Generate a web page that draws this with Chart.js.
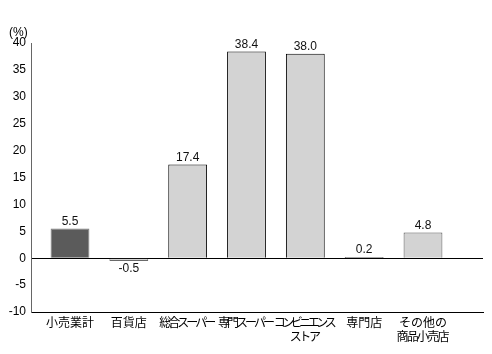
<!DOCTYPE html>
<html><head><meta charset="utf-8">
<script src="https://cdn.jsdelivr.net/npm/chart.js@4/dist/chart.umd.min.js"></script>
<style>html,body{margin:0;padding:0;background:#fff}#w{width:492px;height:354px}</style>
</head><body><div id="w"><canvas id="c"></canvas></div>
<script>
const categories = [["小売業計"], ["百貨店"], ["総合スーパー"], ["専門スーパー"], ["コンビニエンス", "ストア"], ["専門店"], ["その他の", "商品小売店"]];
const values = [5.5, -0.5, 17.4, 38.4, 38.0, 0.2, 4.8];
const valueLabels = ["5.5", "-0.5", "17.4", "38.4", "38.0", "0.2", "4.8"];
const yTicks = [-10, -5, 0, 5, 10, 15, 20, 25, 30, 35, 40];
const unitLabel = "(%)";

// styles
const fillColors = ["#5b5b5b", "#d3d3d3", "#d3d3d3", "#d3d3d3", "#d3d3d3", "#d3d3d3", "#d3d3d3"];
const borderColors = ["#7a7a7a", "#6a6a6a", "#000000", "#000000", "#000000", "#000000", "#555555"];
const lineLetterSpacing = {"総合スーパー": -3, "専門スーパー": -3, "コンビニエンス": -3.5, "ストア": -2.3, "商品小売店": -1.8};

const labelPlugin = {
  id: 'vals',
  beforeDraw(chart) {
    const s = chart.scales.x;
    if (s && !s._lsPatched) {
      s._lsPatched = true;
      s.drawLabels = function (chartArea) {
        const ctx = this.ctx;
        const items = this.getLabelItems(chartArea);
        for (const it of items) {
          const o = it.options;
          const lines = Array.isArray(it.label) ? it.label : [it.label];
          ctx.save();
          ctx.translate(o.translation[0], o.translation[1]);
          ctx.font = it.font.string;
          ctx.fillStyle = o.color;
          ctx.textAlign = o.textAlign;
          ctx.textBaseline = o.textBaseline;
          let y = it.textOffset;
          for (const ln of lines) {
            const sp = lineLetterSpacing[ln] || 0;
            ctx.letterSpacing = sp + 'px';
            ctx.fillText(ln, sp / 2, y);
            y += it.font.lineHeight;
          }
          ctx.restore();
        }
      };
    }
  },
  afterDatasetsDraw(chart) {
    const ctx = chart.ctx;
    const meta = chart.getDatasetMeta(0);
    ctx.save();
    ctx.font = '12px "Liberation Sans", Arial, sans-serif';
    ctx.fillStyle = '#111';
    ctx.textAlign = 'center';
    meta.data.forEach((bar, i) => {
      const v = values[i];
      if (v >= 0) {
        ctx.textBaseline = 'bottom';
        ctx.fillText(valueLabels[i], bar.x, Math.min(bar.y, bar.base) - 1);
      } else {
        ctx.textBaseline = 'top';
        ctx.fillText(valueLabels[i], bar.x, Math.max(bar.y, bar.base) + 2);
      }
    });
    ctx.textAlign = 'left';
    ctx.textBaseline = 'middle';
    ctx.fillStyle = '#000';
    ctx.fillText(unitLabel, 9, chart.chartArea.top - 10);
    ctx.restore();
  }
};

new Chart(document.getElementById('c'), {
  type: 'bar',
  data: {
    datasets: [{
      data: values.map((v, i) => ({x: i, y: v})),
      backgroundColor: fillColors,
      borderColor: borderColors,
      borderWidth: 1,
      barPercentage: 1,
      categoryPercentage: 0.66
    }]
  },
  options: {
    responsive: true,
    maintainAspectRatio: false,
    animation: false,
    layout: {padding: {top: 43, right: 9, left: 0, bottom: 0}},
    plugins: {legend: {display: false}, tooltip: {enabled: false}},
    scales: {
      x: {
        type: 'linear',
        offset: false,
        min: -0.663,
        max: 7.02,
        afterBuildTicks: (s) => { s.ticks = categories.map((c, i) => ({value: i})); },
        afterFit: (s) => { s.height = 42; },
        ticks: {
          autoSkip: false,
          maxRotation: 0,
          padding: 3,
          color: '#000',
          font: {family: '"Noto Sans CJK JP", sans-serif', size: 12, lineHeight: 1.2},
          callback: (v) => categories[v]
        },
        grid: {display: false, drawTicks: false},
        border: {display: true, color: '#000', width: 1}
      },
      y: {
        min: -10,
        max: 40,
        afterBuildTicks: (s) => { s.ticks = yTicks.map(v => ({value: v})); },
        afterFit: (s) => { s.width = 31; },
        ticks: {
          padding: 5,
          color: '#000',
          font: {family: '"Liberation Sans", Arial, sans-serif', size: 12}
        },
        grid: {
          drawTicks: false,
          color: (c) => (c.tick && c.tick.value === 0 ? '#000' : 'rgba(0,0,0,0)'),
          lineWidth: 1
        },
        border: {display: true, color: '#666', width: 1}
      }
    }
  },
  plugins: [labelPlugin]
});
</script>
</body></html>
